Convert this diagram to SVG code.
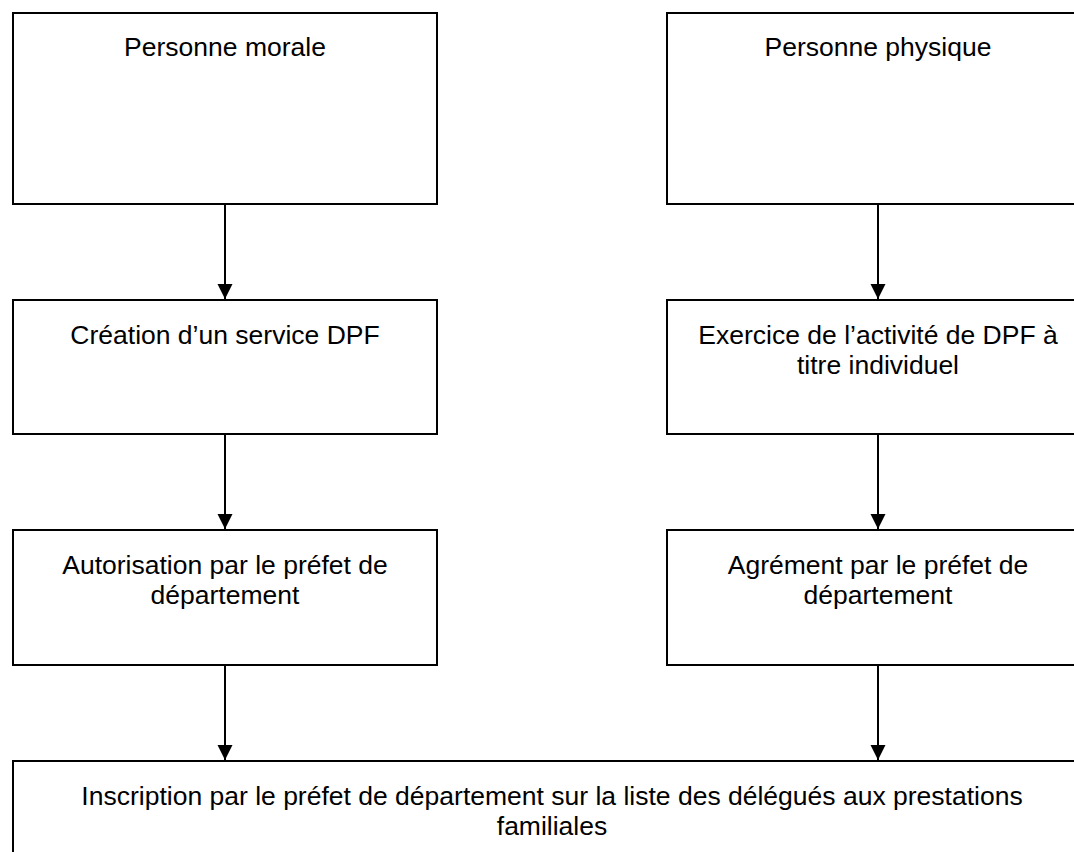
<svg xmlns="http://www.w3.org/2000/svg" width="1074" height="852" viewBox="0 0 1074 852">
<style>
.box{fill:#fff;stroke:#000;stroke-width:2}
.t{font-family:"Liberation Sans",Arial,sans-serif;font-size:26.5px;fill:#000;text-anchor:middle}
.c{stroke:#000;stroke-width:2;fill:none}
</style>
<defs>
<marker id="ah" markerUnits="userSpaceOnUse" markerWidth="16" markerHeight="17" refX="15" refY="8" orient="auto">
<path d="M0,0.5 L15,8 L0,15.5 Z" fill="#000"/>
</marker>
</defs>
<rect width="1074" height="852" fill="#fff"/>
<g id="n1"><rect class="box" x="13" y="13" width="424" height="191"/><text class="t" x="225" y="56">Personne morale</text></g>
<g id="n2"><rect class="box" x="667" y="13" width="424" height="191"/><text class="t" x="878" y="56">Personne physique</text></g>
<g id="n3"><rect class="box" x="13" y="300" width="424" height="134"/><text class="t" x="225" y="344">Création d’un service DPF</text></g>
<g id="n4"><rect class="box" x="667" y="300" width="424" height="134"/><text class="t" x="878" y="344">Exercice de l’activité de DPF à</text><text class="t" x="878" y="374">titre individuel</text></g>
<g id="n5"><rect class="box" x="13" y="530" width="424" height="135"/><text class="t" x="225" y="574">Autorisation par le préfet de</text><text class="t" x="225" y="604">département</text></g>
<g id="n6"><rect class="box" x="667" y="530" width="424" height="135"/><text class="t" x="878" y="574">Agrément par le préfet de</text><text class="t" x="878" y="604">département</text></g>
<g id="n7"><rect class="box" x="13" y="761" width="1078" height="110"/><text class="t" x="552" y="805">Inscription par le préfet de département sur la liste des délégués aux prestations</text><text class="t" x="552" y="835">familiales</text></g>
<g id="connectors">
<line class="c" x1="225" y1="204" x2="225" y2="299" marker-end="url(#ah)"/>
<line class="c" x1="878" y1="204" x2="878" y2="299" marker-end="url(#ah)"/>
<line class="c" x1="225" y1="434" x2="225" y2="529" marker-end="url(#ah)"/>
<line class="c" x1="878" y1="434" x2="878" y2="529" marker-end="url(#ah)"/>
<line class="c" x1="225" y1="665" x2="225" y2="760" marker-end="url(#ah)"/>
<line class="c" x1="878" y1="665" x2="878" y2="760" marker-end="url(#ah)"/>
</g>
</svg>
